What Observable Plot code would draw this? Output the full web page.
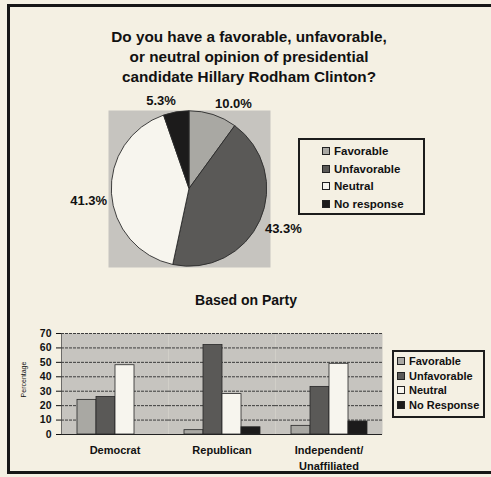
<!DOCTYPE html>
<html>
<head>
<meta charset="utf-8">
<script src="https://cdn.jsdelivr.net/npm/d3@7"></script>
<script src="https://cdn.jsdelivr.net/npm/@observablehq/plot@0.6"></script>
<style>
html,body{margin:0;padding:0;}
body{width:491px;height:477px;background:#f4f0e3;position:relative;overflow:hidden;font-family:"Liberation Sans",Arial,sans-serif;color:#111;}
#frame{position:absolute;left:7px;top:4px;width:520px;height:470px;border:3px solid #161616;box-sizing:border-box;}
#title{position:absolute;left:0;width:498px;top:27px;text-align:center;font-weight:bold;font-size:15.3px;line-height:20px;}
#sub{position:absolute;left:0;width:492px;top:292px;text-align:center;font-weight:bold;font-size:14px;line-height:16px;}
.abs{position:absolute;}
.legend{position:absolute;border:2px solid #1c1c1c;box-sizing:border-box;background:#f4f0e3;font-weight:bold;}
.item{position:absolute;white-space:nowrap;display:flex;align-items:center;}
.sw{display:inline-block;width:6px;height:6px;border:1px solid #222;margin-right:4px;}
#ylab{position:absolute;left:3px;top:376px;width:40px;text-align:center;font-size:7px;transform:rotate(-90deg);transform-origin:50% 50%;}
</style>
</head>
<body>
<div id="frame"></div>
<div id="title">Do you have a favorable, unfavorable,<br>or neutral opinion of presidential<br>candidate Hillary Rodham Clinton?</div>
<div id="pie" class="abs" style="left:0;top:85px;"></div>
<div id="pieLegend" class="legend" style="left:298px;top:138px;width:127px;height:77px;"></div>
<div id="sub">Based on Party</div>
<div id="bars" class="abs" style="left:0;top:310px;"></div>
<div id="barLegend" class="legend" style="left:392px;top:350px;width:93px;height:68px;"></div>
<div id="ylab">Percentage</div>
<script>
// ---- data ----
const pieCategories = ["Favorable", "Unfavorable", "Neutral", "No response"];
const pieValues = [10.0, 43.3, 41.3, 5.3];

const parties = ["Democrat", "Republican", "Independent"];
const partyLabels = ["Democrat", "Republican", "Independent/\nUnaffiliated"];
const opinions = ["Favorable", "Unfavorable", "Neutral", "No Response"];
const favorable = [24, 3, 6];
const unfavorable = [26, 62, 33];
const neutral = [48, 28, 49];
const noResponse = [0, 5, 9];
const yTicks = [0, 10, 20, 30, 40, 50, 60, 70];

// ---- styles ----
const palette = ["#a9a8a3", "#5a5957", "#f7f5ee", "#1c1b1b"];
const plotBg = "#c6c4bf";
const font = '"Liberation Sans", Arial, sans-serif';

// ---- pie ----
const pieData = pieCategories.map((c, i) => ({category: c, value: pieValues[i]}));
const arcs = d3.pie().sort(null).value(d => d.value)(pieData);
const pieColor = d3.scaleOrdinal(pieCategories, palette);
const labelR = 1.05;      // just outside the pie edge (data units)
const halfLabelH = 0.083; // half text height (data units)
const labelData = arcs.map(a => {
  const mid = (a.startAngle + a.endAngle) / 2;
  const s = Math.sin(mid), c = Math.cos(mid);
  return {
    text: a.data.value.toFixed(1) + "%",
    x: labelR * s,
    y: labelR * c + Math.sign(c) * halfLabelH,
    anchor: s >= 0 ? "start" : "end"
  };
});

function pieRender(index, scales) {
  const cx = scales.x(0), cy = scales.y(0);
  const r = Math.min(scales.x(1) - cx, cy - scales.y(1)) * 0.99;
  const arc = d3.arc().innerRadius(0).outerRadius(r);
  const g = d3.create("svg:g").attr("transform", `translate(${cx},${cy})`);
  g.selectAll("path").data(arcs).join("path")
    .attr("d", arc)
    .attr("fill", d => pieColor(d.data.category))
    .attr("stroke", "#2a2a2a")
    .attr("stroke-width", 0.9);
  return g.node();
}

const textOpts = {x: "x", y: "y", text: "text", fontSize: 13, fontWeight: "bold", fill: "#111"};
const piePlot = Plot.plot({
  width: 491, height: 200,
  marginLeft: 108, marginRight: 221, marginTop: 25, marginBottom: 18,
  x: {domain: [-1.03, 1.03], axis: null},
  y: {domain: [-1, 1], axis: null},
  style: {background: "transparent", fontFamily: font, overflow: "visible"},
  marks: [
    Plot.frame({fill: plotBg}),
    pieRender,
    Plot.text(labelData.filter(d => d.anchor === "start"), {...textOpts, textAnchor: "start"}),
    Plot.text(labelData.filter(d => d.anchor === "end"), {...textOpts, textAnchor: "end"})
  ]
});
document.getElementById("pie").appendChild(piePlot);

// pie legend
const pl = document.getElementById("pieLegend");
pieCategories.forEach((c, i) => {
  const it = document.createElement("div");
  it.className = "item";
  it.style.left = "22px";
  it.style.top = (5 + i * 17.5) + "px";
  it.style.fontSize = "11.5px";
  it.innerHTML = `<span class="sw" style="background:${palette[i]}"></span>${c}`;
  pl.appendChild(it);
});

// ---- bars ----
const series = [favorable, unfavorable, neutral, noResponse];
const barData = [];
parties.forEach((p, j) => opinions.forEach((o, i) => barData.push({party: p, opinion: o, value: series[i][j]})));
const partyData = parties.map((p, j) => ({party: p, label: partyLabels[j]}));

const barPlot = Plot.plot({
  width: 491, height: 160,
  marginLeft: 60, marginRight: 108, marginTop: 23, marginBottom: 36,
  style: {background: "transparent", fontFamily: font, fontSize: "10.5px", fontWeight: "bold", overflow: "visible", color: "#111"},
  fx: {domain: parties, padding: 0, axis: null},
  x: {domain: opinions, paddingInner: 0, paddingOuter: 0.69, axis: null},
  y: {domain: [0, 70], ticks: yTicks, tickSize: 5, tickPadding: 5, label: null, line: true},
  color: {domain: opinions, range: palette},
  marks: [
    Plot.frame({fill: plotBg}),
    Plot.ruleY(yTicks.slice(1), {stroke: "#3c3c3c", strokeWidth: 1, strokeDasharray: "3,1"}),
    Plot.barY(barData.filter(d => d.value > 0), {fx: "party", x: "opinion", y: "value", fill: "opinion", stroke: "#262626", strokeWidth: 0.8}),
    Plot.ruleY([0], {stroke: "#222", strokeWidth: 1}),
    Plot.text(partyData, {fx: "party", text: "label", frameAnchor: "bottom", lineAnchor: "top", dy: 8, fontSize: 11, fontWeight: "bold", lineHeight: 1.45, fill: "#111"})
  ]
});
document.getElementById("bars").appendChild(barPlot);

// bar legend
const bl = document.getElementById("barLegend");
opinions.forEach((o, i) => {
  const it = document.createElement("div");
  it.className = "item";
  it.style.left = "3px";
  it.style.top = (3 + i * 14.5) + "px";
  it.style.fontSize = "11px";
  it.innerHTML = `<span class="sw" style="background:${palette[i]}"></span>${o}`;
  bl.appendChild(it);
});
</script>
</body>
</html>
